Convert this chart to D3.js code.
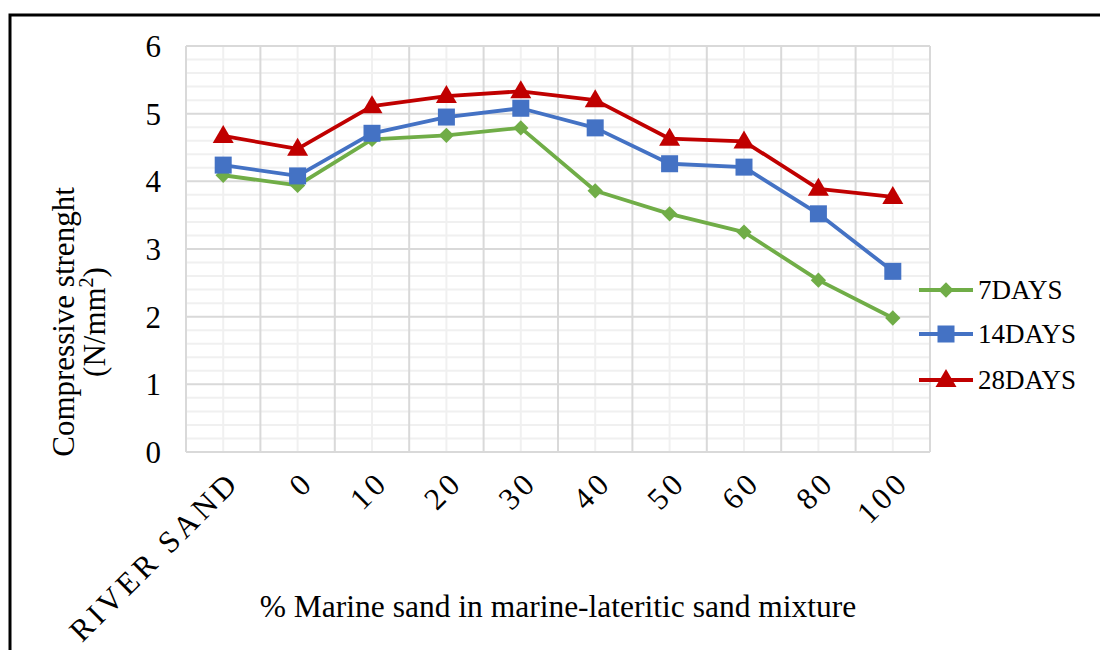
<!DOCTYPE html>
<html><head><meta charset="utf-8">
<script src="https://cdn.jsdelivr.net/npm/d3@7"></script>
<style>body{margin:0;background:#fff}svg{display:block}text{font-family:"Liberation Serif","Times New Roman",serif}</style>
</head><body><svg id="c" width="1100" height="650"></svg>
<script>
const categories = ["RIVER SAND","0","10","20","30","40","50","60","80","100"];
const days7  = [4.09,3.94,4.62,4.68,4.79,3.86,3.52,3.25,2.54,1.98];
const days14 = [4.24,4.08,4.71,4.95,5.08,4.79,4.26,4.21,3.52,2.67];
const days28 = [4.67,4.48,5.11,5.26,5.33,5.20,4.63,4.59,3.89,3.77];
const yTicks = [0,1,2,3,4,5,6];
const seriesNames = ["7DAYS","14DAYS","28DAYS"];
const series = [
  {name:seriesNames[0], values:days7, color:"#70AD47", shape:"diamond"},
  {name:seriesNames[1], values:days14, color:"#4472C4", shape:"square"},
  {name:seriesNames[2], values:days28, color:"#C00000", shape:"triangle"}
];
const svg = d3.select("#c");
const L=186,R=930,T=46,B=452;
svg.append("path").attr("d","M10,650 L10,15 L1100,15").attr("fill","none").attr("stroke","#000").attr("stroke-width",3);
const x = d3.scaleBand().domain(categories).range([L,R]);
const y = d3.scaleLinear().domain([0,6]).range([B,T]);
const g = svg.append("g");
d3.range(0,6.0001,0.2).forEach(v=>{
  if (Math.abs(v-Math.round(v))>1e-6) g.append("line").attr("x1",L).attr("x2",R).attr("y1",y(v)).attr("y2",y(v)).attr("stroke","#f0f0f0").attr("stroke-width",2);
});
categories.forEach(c=>{
  const cx=x(c)+x.bandwidth()/2;
  g.append("line").attr("x1",cx).attr("x2",cx).attr("y1",T).attr("y2",B).attr("stroke","#f0f0f0").attr("stroke-width",2);
});
yTicks.forEach(v=>g.append("line").attr("x1",L).attr("x2",R).attr("y1",y(v)).attr("y2",y(v)).attr("stroke","#d9d9d9").attr("stroke-width",2));
categories.forEach(c=>g.append("line").attr("x1",x(c)).attr("x2",x(c)).attr("y1",T).attr("y2",B).attr("stroke","#d9d9d9").attr("stroke-width",2));
g.append("line").attr("x1",R).attr("x2",R).attr("y1",T).attr("y2",B).attr("stroke","#d9d9d9").attr("stroke-width",2);
yTicks.forEach(v=>svg.append("text").attr("x",161).attr("y",y(v)+11).attr("text-anchor","end").attr("font-size",31).text(v));
categories.forEach(c=>{
  const cx=x(c)+x.bandwidth()/2+18;
  svg.append("text").attr("transform",`translate(${cx},${484}) rotate(-45)`).attr("text-anchor","end").attr("font-size",31).attr("letter-spacing",4).text(c);
});
const yt = svg.append("text").attr("transform","translate(74,322) rotate(-90)").attr("text-anchor","middle").attr("font-size",31);
yt.append("tspan").attr("x",0).attr("dy",0).text("Compressive strenght");
const l2 = yt.append("tspan").attr("x",0).attr("dy",31);
l2.text("(N/mm");
yt.append("tspan").attr("dy",-12).attr("font-size",20).text("2");
yt.append("tspan").attr("dy",12).text(")");
svg.append("text").attr("x",558).attr("y",617).attr("text-anchor","middle").attr("font-size",31.5).text("% Marine sand in marine-lateritic sand mixture");
const line = d3.line().x((d,i)=>x(categories[i])+x.bandwidth()/2).y(d=>y(d));
function marker(sel, s, cx, cy){
  if (s.shape==="diamond") sel.append("path").attr("d",d3.symbol(d3.symbolDiamond2,150)()).attr("transform",`translate(${cx},${cy})`).attr("fill",s.color);
  else if (s.shape==="square") sel.append("rect").attr("x",cx-8.5).attr("y",cy-8.5).attr("width",17).attr("height",17).attr("fill",s.color);
  else sel.append("path").attr("d",`M${cx},${cy-11}L${cx+10.5},${cy+7}L${cx-10.5},${cy+7}Z`).attr("fill",s.color);
}
series.forEach(s=>{
  svg.append("path").attr("d",line(s.values)).attr("fill","none").attr("stroke",s.color).attr("stroke-width",3.8).attr("stroke-linejoin","round");
  s.values.forEach((v,i)=>marker(svg,s,x(categories[i])+x.bandwidth()/2,y(v)));
});
series.forEach((s,i)=>{
  const ly=[290,334,380][i];
  svg.append("line").attr("x1",919).attr("x2",973).attr("y1",ly).attr("y2",ly).attr("stroke",s.color).attr("stroke-width",3.8);
  marker(svg,s,946,ly);
  svg.append("text").attr("x",978).attr("y",ly+9).attr("font-size",27).text(s.name);
});
</script></body></html>
